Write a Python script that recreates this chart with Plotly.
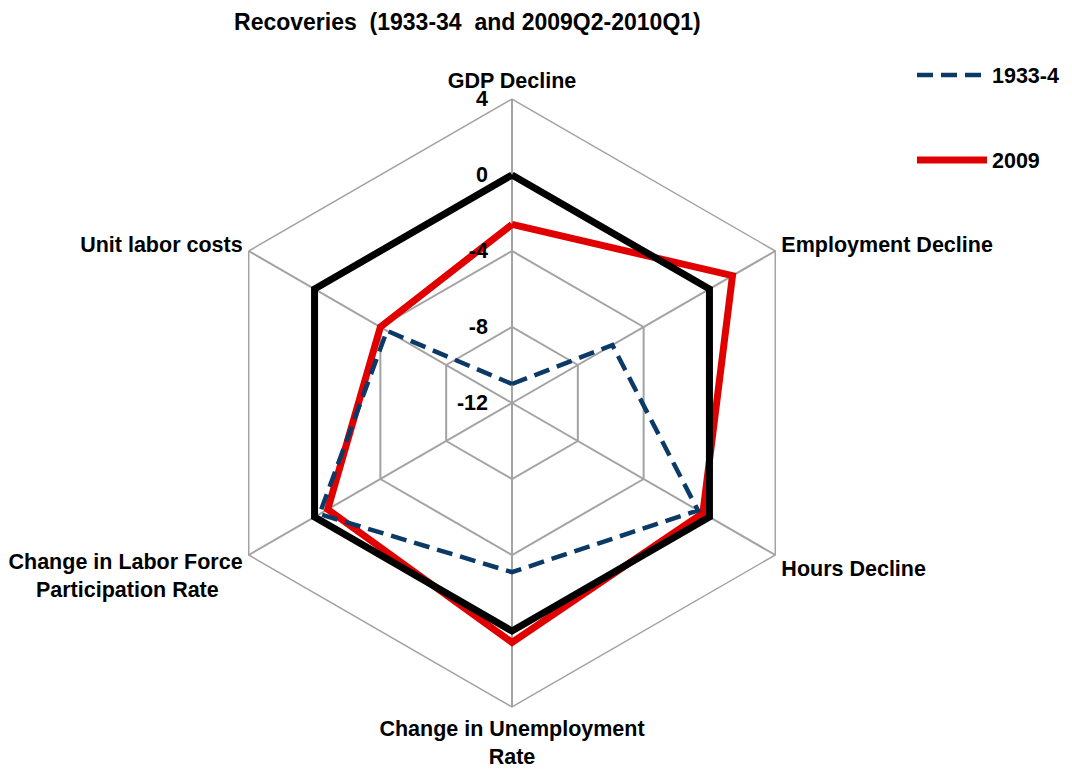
import plotly.graph_objects as go

categories = ["GDP Decline", "Employment Decline", "Hours Decline",
              "Change in Unemployment<br>Rate",
              "Change in Labor Force<br>Participation Rate\u00a0\u00a0\u00a0\u00a0",
              "Unit labor costs"]
series_1933 = [-11.0, -5.9, -0.7, -3.1, -0.3, -4.4]
series_2009 = [-2.6, 1.4, -0.4, 0.6, -0.8, -4.0]
zero_line = [0, 0, 0, 0, 0, 0]
tick_vals = [-12, -8, -4, 0, 4]
tick_text = ["-12", "-8", "-4", "0", "4"]

def closed(v):
    return list(v) + [v[0]]

theta = closed(categories)
FONT = "Liberation Sans, Arial, sans-serif"
FS = 21.5
GRID = "#A3A3A3"

fig = go.Figure()
fig.add_trace(go.Scatterpolar(r=closed(series_2009), theta=theta, mode="lines",
                              name="2009", legend="legend2",
                              line=dict(color="#E00000", width=7)))
fig.add_trace(go.Scatterpolar(r=closed(zero_line), theta=theta, mode="lines",
                              showlegend=False,
                              line=dict(color="#000000", width=7)))
fig.add_trace(go.Scatterpolar(r=closed(series_1933), theta=theta, mode="lines",
                              name="1933-4", legend="legend",
                              line=dict(color="#0B3A66", width=4.5, dash="16px,8px")))

fig.update_layout(
    width=1072, height=769,
    margin=dict(l=0, r=0, t=0, b=0),
    paper_bgcolor="white", plot_bgcolor="white",
    font=dict(family=FONT, size=FS, color="black", weight=700),
    title=dict(text="Recoveries  (1933-34  and 2009Q2-2010Q1)",
               x=0.436, xanchor="center", y=1-22/769, yanchor="middle",
               font=dict(family=FONT, size=23, color="black", weight=700)),
    polar=dict(
        domain=dict(x=[208/1072, 816/1072], y=[62/769, 670/769]),
        bgcolor="white",
        gridshape="linear",
        angularaxis=dict(direction="clockwise", rotation=90,
                         categoryorder="array", categoryarray=categories,
                         showline=True, linecolor=GRID, linewidth=1.5,
                         gridcolor=GRID, gridwidth=1.5,
                         ticks="outside", ticklen=2, tickcolor="rgba(0,0,0,0)",
                         tickfont=dict(family=FONT, size=FS, weight=700)),
        radialaxis=dict(range=[-12, 4], tickvals=tick_vals, ticktext=tick_text,
                        angle=90, tickangle=90, side="counterclockwise",
                        showline=False,
                        ticks="outside", ticklen=16, tickcolor="rgba(0,0,0,0)",
                        gridcolor=GRID, gridwidth=1.5,
                        tickfont=dict(family=FONT, size=FS, weight=700)),
    ),
    legend=dict(x=912/1072, xanchor="left", y=1-75/769, yanchor="middle",
                bgcolor="rgba(0,0,0,0)", itemwidth=70,
                font=dict(family=FONT, size=FS, weight=700)),
    legend2=dict(x=912/1072, xanchor="left", y=1-160/769, yanchor="middle",
                 bgcolor="rgba(0,0,0,0)", itemwidth=70,
                 font=dict(family=FONT, size=FS, weight=700)),
)

fig.write_html("out.html", config={"displayModeBar": False},
               post_script="document.body.style.margin='0px';")
